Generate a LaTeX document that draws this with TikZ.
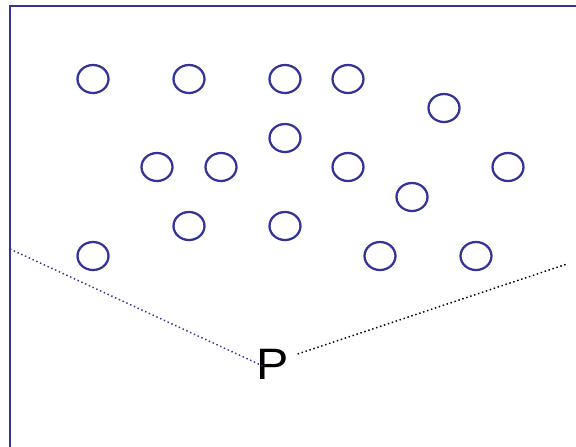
\documentclass[tikz,border=0pt]{standalone}
\usepackage{fontspec}
\newfontfamily\plabelfont[FakeStretch=1.1]{Liberation Sans}
\usetikzlibrary{shapes.geometric}
\definecolor{frameblue}{RGB}{51,51,153}
\tikzset{every picture/.style={line width=0.75pt}}
\tikzset{
  spot/.style={draw=frameblue, ellipse, line width=1.7pt, inner sep=0pt, minimum width=23.25pt, minimum height=21pt},
  fence/.style={draw=frameblue, line width=1.8pt},
  dotline/.style={line width=1.1pt, dash pattern=on 1.1pt off 2pt}
}

\begin{document}
\begin{tikzpicture}[x=0.75pt,y=0.75pt,yscale=-1,xscale=1]
\useasboundingbox (0,0) rectangle (576,447);

%Straight Lines [id:frame]
\draw [fence] (10,447) -- (10,6) -- (576,6) ;

%Shape: Circle [id:row1]
\node [spot] (c1) at (93,79) {};
\node [spot] (c2) at (189,79) {};
\node [spot] (c3) at (285,79) {};
\node [spot] (c4) at (348,79) {};
%Shape: Circle [id:row2]
\node [spot] (c5) at (444,108) {};
\node [spot] (c6) at (285,138) {};
%Shape: Circle [id:row3]
\node [spot] (c7) at (157,167) {};
\node [spot] (c8) at (221,167) {};
\node [spot] (c9) at (348,167) {};
\node [spot] (c10) at (508,167) {};
\node [spot] (c11) at (412,197) {};
%Shape: Circle [id:row4]
\node [spot] (c12) at (189,226) {};
\node [spot] (c13) at (285,226) {};
\node [spot] (c14) at (93,256) {};
\node [spot] (c15) at (380,256) {};
\node [spot] (c16) at (476,256) {};

% Text Node
\node [inner sep=0pt, font=\plabelfont\fontsize{33}{33}\selectfont] (P) at (273,364) {P};

\coordinate (lft) at (10,249);
\coordinate (rgt) at (567,264);

%Straight Lines [id:leftray]
\draw [dotline, frameblue] (lft) -- ([xshift=6pt,yshift=2pt]P.west) ;
%Straight Lines [id:rightray]
\draw [dotline, black] ([xshift=6pt,yshift=-7.5pt]P.east) -- (rgt) ;

\end{tikzpicture}
\end{document}
